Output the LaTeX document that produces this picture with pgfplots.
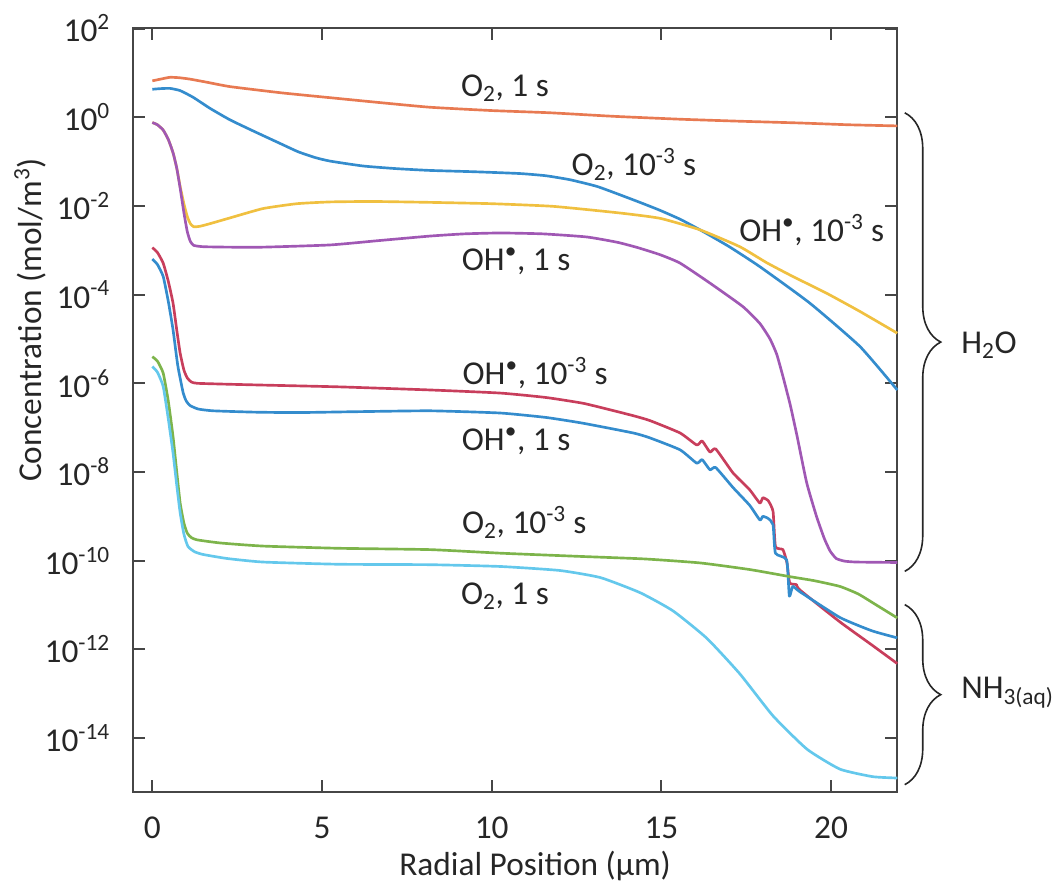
\documentclass[border=0pt]{standalone}
\usepackage{fontspec}
\setmainfont{Carlito}
\usepackage{pgfplots}
\pgfplotsset{compat=1.18}
\usetikzlibrary{decorations.pathreplacing}
\definecolor{axgray}{RGB}{70,70,70}
\definecolor{cOrange}{RGB}{232,122,82}
\definecolor{cBlue}{RGB}{52,140,205}
\definecolor{cYellow}{RGB}{240,192,64}
\definecolor{cPurple}{RGB}{160,88,180}
\definecolor{cRed}{RGB}{200,62,92}
\definecolor{cGreen}{RGB}{125,180,75}
\definecolor{cLBlue}{RGB}{100,200,236}
\begin{document}
\fontsize{25}{30}\selectfont
\begin{tikzpicture}
\useasboundingbox (-100pt,-68.6pt) rectangle (695.8pt,594.2pt);
\begin{axis}[
  at={(0,0)}, anchor=south west,
  scale only axis, width=573pt, height=573pt,
  xmin=-0.56, xmax=21.95, ymin=-15.22, ymax=2.006,
  xtick={0,5,10,15,20}, xticklabels={0,5,10,15,20},
  ytick={-14,-12,-10,-8,-6,-4,-2,0,2},
  yticklabels={10\textsuperscript{-14},10\textsuperscript{-12},10\textsuperscript{-10},10\textsuperscript{-8},10\textsuperscript{-6},10\textsuperscript{-4},10\textsuperscript{-2},10\textsuperscript{0},10\textsuperscript{2}},
  tick align=inside, major tick length=9pt,
  tick style={line width=1.5pt, color=axgray},
  axis line style={line width=1.5pt, color=axgray},
  xticklabel style={yshift=-10pt, text=black!85},
  yticklabel style={xshift=-9pt, text=black!85},
  xlabel={Radial Position (µm)},
  ylabel={Concentration (mol/m\textsuperscript{3})},
  xlabel style={at={(axis description cs:0.526,-0.097)}, anchor=center, text=black!85},
  ylabel style={at={(axis description cs:-0.135,0.618)}, anchor=center, text=black!85},
  clip=false,
  every axis plot/.append style={line width=2pt, line join=round, smooth, tension=0.3},
]
% O2, 1 s (H2O)
\addplot[cOrange] coordinates {(0,0.82)(0.25,0.86)(0.52,0.90)(0.8,0.89)(1.1,0.86)(1.6,0.79)(2.29,0.69)(3.8,0.55)(5.24,0.44)(6.7,0.33)(8.18,0.225)(10,0.15)(11.72,0.10)(13.6,0.02)(15.55,-0.045)(17.3,-0.09)(19.08,-0.13)(20.5,-0.17)(21.95,-0.196)};
% O2, 1e-3 s (H2O)
\addplot[cBlue] coordinates {(0,0.63)(0.25,0.645)(0.52,0.65)(0.82,0.60)(1.2,0.45)(1.7,0.2)(2.29,-0.06)(3.0,-0.32)(3.76,-0.59)(4.3,-0.78)(4.8,-0.91)(5.24,-0.99)(6.21,-1.10)(7.2,-1.16)(8.18,-1.20)(9.5,-1.23)(10.83,-1.27)(11.6,-1.32)(12.31,-1.41)(13.1,-1.56)(13.78,-1.75)(14.4,-1.93)(14.96,-2.10)(15.55,-2.30)(16.14,-2.54)(17.0,-2.92)(17.90,-3.37)(19.37,-4.19)(20.85,-5.17)(21.95,-6.15)};
% OH, 1e-3 s (H2O)
\addplot[cYellow] coordinates {(0,-0.12)(0.15,-0.17)(0.32,-0.29)(0.47,-0.5)(0.61,-0.8)(0.72,-1.15)(0.82,-1.56)(0.93,-1.95)(1.03,-2.24)(1.12,-2.40)(1.22,-2.47)(1.40,-2.46)(1.7,-2.40)(2.29,-2.27)(3.26,-2.06)(4.26,-1.95)(5.24,-1.91)(6.5,-1.90)(8.18,-1.92)(10,-1.95)(11.81,-2.01)(13.78,-2.16)(14.96,-2.28)(16.14,-2.54)(17.31,-2.92)(18.1,-3.28)(18.87,-3.59)(19.87,-3.97)(20.85,-4.38)(21.95,-4.87)};
% OH, 1 s (H2O)
\addplot[cPurple] coordinates {(0,-0.12)(0.15,-0.17)(0.32,-0.29)(0.47,-0.5)(0.61,-0.8)(0.72,-1.15)(0.82,-1.6)(0.93,-2.15)(1.03,-2.58)(1.12,-2.80)(1.22,-2.89)(1.50,-2.92)(2.3,-2.93)(3.26,-2.93)(5.24,-2.88)(6.7,-2.78)(8.18,-2.68)(9.2,-2.63)(10.25,-2.61)(11.5,-2.63)(12.8,-2.70)(13.7,-2.82)(14.3,-2.94)(14.96,-3.10)(15.55,-3.29)(16.43,-3.74)(17.40,-4.27)(17.9,-4.65)(18.2,-5.0)(18.4,-5.35)(18.6,-5.9)(18.8,-6.5)(19.0,-7.2)(19.28,-8.24)(19.57,-9.0)(19.8,-9.5)(19.97,-9.78)(20.15,-9.95)(20.4,-10.01)(20.75,-10.03)(21.95,-10.04)};
% OH, 1e-3 s (NH3)
\addplot[cRed] coordinates {(0,-2.94)(0.15,-3.05)(0.32,-3.29)(0.47,-3.7)(0.61,-4.19)(0.72,-4.8)(0.82,-5.32)(0.93,-5.7)(1.03,-5.88)(1.15,-5.97)(1.32,-6.0)(2.2,-6.02)(3.26,-6.04)(5.5,-6.08)(8.18,-6.15)(10.25,-6.22)(11.6,-6.32)(12.69,-6.45)(13.5,-6.6)(14.17,-6.73)(14.66,-6.84)(15.55,-7.12)(16.04,-7.39)(16.2,-7.30)(16.43,-7.55)(16.6,-7.48)(17.11,-8.02)(17.6,-8.40)(17.90,-8.70)(17.99,-8.58)(18.15,-8.65)(18.29,-8.89)(18.36,-9.68)(18.58,-9.75)(18.70,-10.05)(18.78,-10.50)(18.98,-10.54)(19.08,-10.66)(20.26,-11.38)(21.2,-11.9)(21.95,-12.32)};
% OH, 1 s (NH3)
\addplot[cBlue] coordinates {(0,-3.20)(0.15,-3.32)(0.32,-3.59)(0.47,-4.15)(0.61,-4.79)(0.75,-5.6)(0.91,-6.22)(1.0,-6.4)(1.11,-6.5)(1.35,-6.58)(1.79,-6.62)(3,-6.65)(4.26,-6.66)(6,-6.64)(8.18,-6.62)(10.25,-6.67)(11.6,-6.77)(12.69,-6.90)(14.17,-7.12)(14.66,-7.23)(15.55,-7.50)(16.04,-7.80)(16.2,-7.72)(16.43,-7.95)(16.6,-7.90)(17.11,-8.35)(17.6,-8.75)(17.90,-9.08)(17.99,-9.00)(18.15,-9.05)(18.29,-9.19)(18.36,-9.83)(18.69,-9.98)(18.77,-10.80)(18.87,-10.58)(19.08,-10.70)(20.26,-11.28)(21.2,-11.58)(21.95,-11.74)};
% O2, 1e-3 s (NH3)
\addplot[cGreen] coordinates {(0,-5.40)(0.15,-5.5)(0.32,-5.77)(0.47,-6.4)(0.61,-7.2)(0.72,-8.0)(0.82,-8.7)(0.93,-9.15)(1.03,-9.38)(1.15,-9.48)(1.32,-9.53)(2,-9.6)(3.26,-9.67)(5.5,-9.72)(8.18,-9.75)(10.25,-9.83)(12.5,-9.90)(14.5,-9.96)(16.14,-10.05)(17.61,-10.20)(18.79,-10.36)(19.5,-10.45)(20.26,-10.58)(20.8,-10.75)(21.23,-10.95)(21.95,-11.29)};
% O2, 1 s (NH3)
\addplot[cLBlue] coordinates {(0,-5.62)(0.15,-5.75)(0.32,-6.07)(0.47,-6.8)(0.61,-7.57)(0.72,-8.3)(0.82,-8.92)(0.93,-9.4)(1.05,-9.68)(1.25,-9.8)(1.5,-9.86)(2.2,-9.95)(3.26,-10.03)(5.5,-10.08)(8.18,-10.09)(10.25,-10.13)(12.0,-10.22)(13.2,-10.38)(14.37,-10.72)(15.34,-11.13)(16.34,-11.75)(17.31,-12.55)(18.29,-13.5)(19.29,-14.25)(20.26,-14.70)(21.23,-14.87)(21.95,-14.90)};
% annotations
\node[text=black!85] at (axis cs:10.39,0.66) {O\textsubscript{2}, 1 s};
\node[text=black!85] at (axis cs:14.19,-1.075) {O\textsubscript{2}, 10\textsuperscript{-3} s};
\node[text=black!85] at (axis cs:19.43,-2.54) {OH\textsuperscript{•}, 10\textsuperscript{-3} s};
\node[text=black!85] at (axis cs:10.72,-3.25) {OH\textsuperscript{•}, 1 s};
\node[text=black!85] at (axis cs:11.28,-5.76) {OH\textsuperscript{•}, 10\textsuperscript{-3} s};
\node[text=black!85] at (axis cs:10.72,-7.31) {OH\textsuperscript{•}, 1 s};
\node[text=black!85] at (axis cs:10.96,-9.14) {O\textsubscript{2}, 10\textsuperscript{-3} s};
\node[text=black!85] at (axis cs:10.39,-10.80) {O\textsubscript{2}, 1 s};
% braces
\draw[line width=1.2pt, black!85, decorate, decoration={brace, amplitude=27pt}] (axis cs:22.17,0.1) -- (axis cs:22.17,-10.24);
\draw[line width=1.2pt, black!85, decorate, decoration={brace, amplitude=27pt}] (axis cs:22.17,-10.99) -- (axis cs:22.17,-15.05);
\node[anchor=west, text=black!85] at (axis cs:23.5,-5.13) {H\textsubscript{2}O};
\node[anchor=west, text=black!85] at (axis cs:23.5,-12.98) {NH\textsubscript{3(aq)}};
\end{axis}
\end{tikzpicture}
\end{document}
